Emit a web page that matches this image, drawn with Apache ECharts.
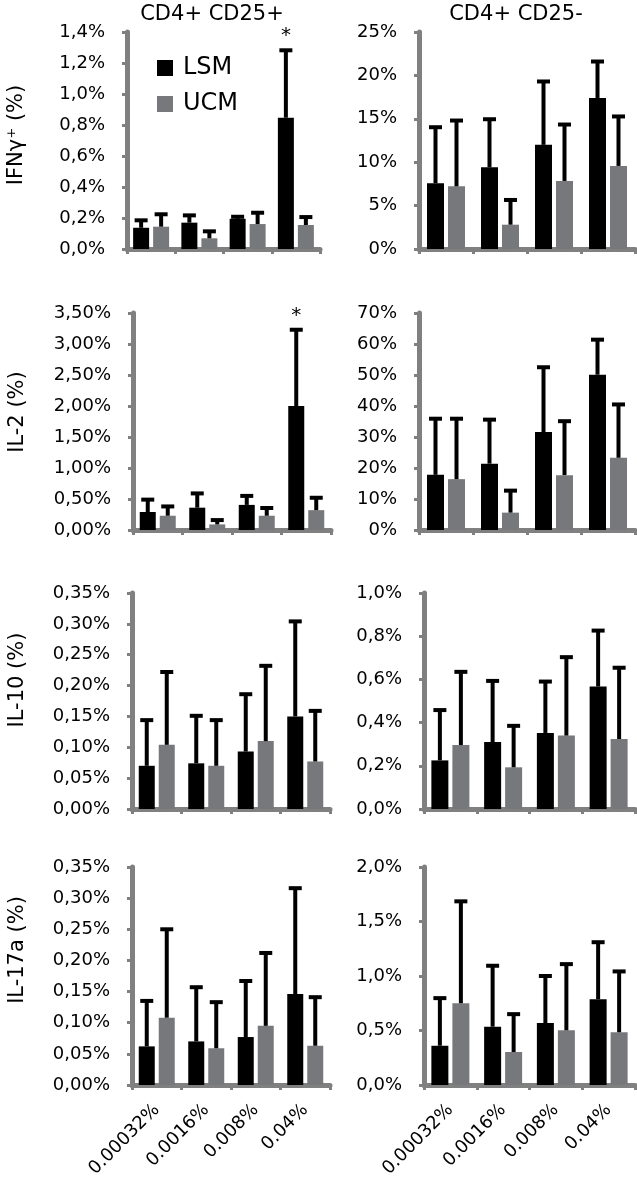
<!DOCTYPE html>
<html>
<head>
<meta charset="utf-8">
<script src="https://cdn.jsdelivr.net/npm/echarts@6/dist/echarts.min.js"></script>
<style>
html,body{margin:0;padding:0;background:#fff;}
#c{width:637px;height:1193px;}
</style>
</head>
<body>
<div id="c"></div>
<script>
// ---------- DATA ----------
const categories = ['0.00032%', '0.0016%', '0.008%', '0.04%'];
const seriesNames = ['LSM', 'UCM'];
const columnTitles = ['CD4+ CD25+', 'CD4+ CD25-'];
const rowNames = ['IFN\u03b3\u207a (%)', 'IL-2 (%)', 'IL-10 (%)', 'IL-17a (%)'];

// IFNγ+  CD4+CD25+
const ifngPos_LSM    = [0.137, 0.170, 0.195, 0.847];
const ifngPos_LSM_sd = [0.048, 0.047, 0.013, 0.435];
const ifngPos_UCM    = [0.144, 0.069, 0.161, 0.155];
const ifngPos_UCM_sd = [0.080, 0.045, 0.073, 0.051];
const ifngPos_sig    = [0, 0, 0, 1];
// IFNγ+  CD4+CD25-
const ifngNeg_LSM    = [7.57, 9.41, 12.0, 17.4];
const ifngNeg_LSM_sd = [6.46, 5.54, 7.3, 4.2];
const ifngNeg_UCM    = [7.22, 2.8, 7.84, 9.57];
const ifngNeg_UCM_sd = [7.58, 2.85, 6.5, 5.7];
const ifngNeg_sig    = [0, 0, 0, 0];
// IL-2  CD4+CD25+
const il2Pos_LSM    = [0.29, 0.36, 0.405, 2.0];
const il2Pos_LSM_sd = [0.20, 0.23, 0.145, 1.23];
const il2Pos_UCM    = [0.23, 0.09, 0.23, 0.32];
const il2Pos_UCM_sd = [0.15, 0.07, 0.125, 0.20];
const il2Pos_sig    = [0, 0, 0, 1];
// IL-2  CD4+CD25-
const il2Neg_LSM    = [17.8, 21.4, 31.6, 50.1];
const il2Neg_LSM_sd = [18.1, 14.2, 20.9, 11.3];
const il2Neg_UCM    = [16.4, 5.6, 17.7, 23.3];
const il2Neg_UCM_sd = [19.5, 7.1, 17.4, 17.2];
const il2Neg_sig    = [0, 0, 0, 0];
// IL-10  CD4+CD25+
const il10Pos_LSM    = [0.070, 0.074, 0.093, 0.150];
const il10Pos_LSM_sd = [0.074, 0.077, 0.093, 0.154];
const il10Pos_UCM    = [0.104, 0.070, 0.110, 0.077];
const il10Pos_UCM_sd = [0.118, 0.074, 0.122, 0.082];
const il10Pos_sig    = [0, 0, 0, 0];
// IL-10  CD4+CD25-
const il10Neg_LSM    = [0.225, 0.31, 0.352, 0.567];
const il10Neg_LSM_sd = [0.233, 0.283, 0.238, 0.259];
const il10Neg_UCM    = [0.296, 0.193, 0.34, 0.324];
const il10Neg_UCM_sd = [0.339, 0.192, 0.363, 0.33];
const il10Neg_sig    = [0, 0, 0, 0];
// IL-17a  CD4+CD25+
const il17Pos_LSM    = [0.062, 0.070, 0.077, 0.146];
const il17Pos_LSM_sd = [0.073, 0.087, 0.090, 0.170];
const il17Pos_UCM    = [0.108, 0.059, 0.095, 0.063];
const il17Pos_UCM_sd = [0.142, 0.074, 0.117, 0.078];
const il17Pos_sig    = [0, 0, 0, 0];
// IL-17a  CD4+CD25-
const il17Neg_LSM    = [0.36, 0.535, 0.569, 0.787];
const il17Neg_LSM_sd = [0.437, 0.559, 0.431, 0.523];
const il17Neg_UCM    = [0.75, 0.303, 0.502, 0.484];
const il17Neg_UCM_sd = [0.935, 0.347, 0.607, 0.558];
const il17Neg_sig    = [0, 0, 0, 0];

// y-axis scales: max, interval, decimals
const axisMax      = [1.4, 25, 3.5, 70, 0.35, 1.0, 0.35, 2.0];
const axisInterval = [0.2, 5, 0.5, 10, 0.05, 0.2, 0.05, 0.5];
const axisDecimals = [1, 0, 2, 0, 2, 1, 2, 1];

// ---------- BUILD ----------
const panels = [
  [ifngPos_LSM, ifngPos_LSM_sd, ifngPos_UCM, ifngPos_UCM_sd, ifngPos_sig],
  [ifngNeg_LSM, ifngNeg_LSM_sd, ifngNeg_UCM, ifngNeg_UCM_sd, ifngNeg_sig],
  [il2Pos_LSM, il2Pos_LSM_sd, il2Pos_UCM, il2Pos_UCM_sd, il2Pos_sig],
  [il2Neg_LSM, il2Neg_LSM_sd, il2Neg_UCM, il2Neg_UCM_sd, il2Neg_sig],
  [il10Pos_LSM, il10Pos_LSM_sd, il10Pos_UCM, il10Pos_UCM_sd, il10Pos_sig],
  [il10Neg_LSM, il10Neg_LSM_sd, il10Neg_UCM, il10Neg_UCM_sd, il10Neg_sig],
  [il17Pos_LSM, il17Pos_LSM_sd, il17Pos_UCM, il17Pos_UCM_sd, il17Pos_sig],
  [il17Neg_LSM, il17Neg_LSM_sd, il17Neg_UCM, il17Neg_UCM_sd, il17Neg_sig]
];

// layout (pixels)
const gridBoxes = [
  {left: 127, top: 32,  width: 193, height: 217},
  {left: 419, top: 32,  width: 216, height: 217},
  {left: 133, top: 313, width: 198, height: 217},
  {left: 419, top: 313, width: 216, height: 217},
  {left: 132, top: 593, width: 198, height: 216},
  {left: 424, top: 593, width: 211, height: 216},
  {left: 132, top: 867, width: 198, height: 218},
  {left: 424, top: 867, width: 211, height: 218}
];
const rowNamePos = [[17, 135], [18, 412], [18, 680], [18, 950]];

const FONT = 'DejaVu Sans';
const AXIS_GRAY = '#808080';
const BLACK = '#000000';
const GRAY = '#77787b';
const BAR_GAP = 4;

const grids = [], xAxes = [], yAxes = [], series = [];

panels.forEach((p, i) => {
  const isLeft = i % 2 === 0;
  const isBottom = i >= 6;
  const barW = isLeft ? 16 : 17;
  grids.push(Object.assign({containLabel: false}, gridBoxes[i]));
  xAxes.push({
    type: 'category', gridIndex: i, data: categories,
    boundaryGap: true,
    axisLine: {show: true, lineStyle: {color: AXIS_GRAY, width: 5}},
    axisTick: {show: true, length: 5, lineStyle: {color: AXIS_GRAY, width: 3}},
    axisLabel: {show: isBottom, rotate: 45, margin: 22, interval: 0,
      fontFamily: FONT, fontSize: 18, color: '#000'},
    splitLine: {show: false}
  });
  const dec = axisDecimals[i];
  yAxes.push({
    type: 'value', gridIndex: i, min: 0, max: axisMax[i], interval: axisInterval[i],
    axisLine: {show: true, lineStyle: {color: AXIS_GRAY, width: 5}},
    axisTick: {show: true, length: 5, lineStyle: {color: AXIS_GRAY, width: 3}},
    axisLabel: {margin: 22, fontFamily: FONT, fontSize: 18, color: '#000',
      formatter: v => v.toFixed(dec).replace('.', ',') + '%'},
    splitLine: {show: false}
  });
  const means = [p[0], p[2]];
  const sds = [p[1], p[3]];
  const sig = p[4];
  const colors = [BLACK, GRAY];
  for (let s = 0; s < 2; s++) {
    series.push({
      type: 'bar', name: seriesNames[s], xAxisIndex: i, yAxisIndex: i,
      data: means[s], barWidth: barW, barGap: (BAR_GAP / barW * 100) + '%',
      itemStyle: {color: colors[s]}, z: 2, silent: true
    });
  }
  for (let s = 0; s < 2; s++) {
    const offset = (s === 0 ? -1 : 1) * (barW + BAR_GAP) / 2;
    series.push({
      type: 'custom', name: seriesNames[s] + ' SD', xAxisIndex: i, yAxisIndex: i,
      z: 3, silent: true,
      encode: {x: 0, y: 1},
      data: categories.map((c, k) => [k, means[s][k], sds[s][k], s === 0 ? sig[k] : 0]),
      renderItem: function (params, api) {
        const idx = api.value(0);
        const mean = api.value(1);
        const top = mean + api.value(2);
        const p0 = api.coord([idx, mean]);
        const p1 = api.coord([idx, top]);
        const x = p0[0] + offset;
        const capW = 13;
        const children = [
          {type: 'rect', shape: {x: x - 2, y: p1[1], width: 4, height: p0[1] - p1[1]}, style: {fill: '#000'}},
          {type: 'rect', shape: {x: x - capW / 2, y: p1[1] - 2, width: capW, height: 4}, style: {fill: '#000'}}
        ];
        if (api.value(3)) {
          children.push({type: 'text', x: x, y: p1[1] - 4,
            style: {text: '*', fontFamily: FONT, fontSize: 20, fill: '#000',
              align: 'center', verticalAlign: 'bottom'}});
        }
        return {type: 'group', children: children};
      }
    });
  }
});

const graphics = rowNames.map((n, r) => ({
  type: 'text', x: rowNamePos[r][0], y: rowNamePos[r][1], rotation: Math.PI / 2,
  style: {text: n, fontFamily: FONT, fontSize: 21, fill: '#000', align: 'center', verticalAlign: 'middle'}
}));

const option = {
  backgroundColor: '#fff',
  animation: false,
  title: [
    {text: columnTitles[0], left: 212, top: 4, textAlign: 'center', padding: 0,
      textStyle: {fontFamily: FONT, fontSize: 21, fontWeight: 'normal', color: '#000'}},
    {text: columnTitles[1], left: 516, top: 4, textAlign: 'center', padding: 0,
      textStyle: {fontFamily: FONT, fontSize: 21, fontWeight: 'normal', color: '#000'}}
  ],
  legend: {
    data: seriesNames, orient: 'vertical', left: 157, top: 56, padding: 0,
    itemWidth: 16, itemHeight: 16, itemGap: 12, icon: 'rect', selectedMode: false,
    textStyle: {fontFamily: FONT, fontSize: 24, color: '#000', padding: [0, 0, 0, 5]}
  },
  grid: grids,
  xAxis: xAxes,
  yAxis: yAxes,
  series: series,
  graphic: graphics
};

const chart = echarts.init(document.getElementById('c'), null, {renderer: 'canvas'});
chart.setOption(option);
</script>
</body>
</html>
